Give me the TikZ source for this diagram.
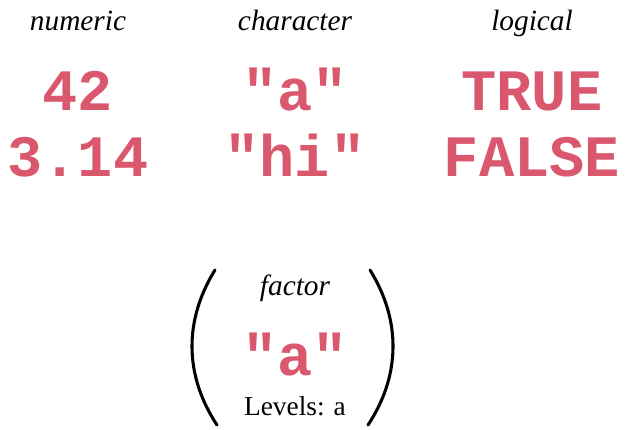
\documentclass[tikz,border=0pt]{standalone}
\usepackage{fontspec}
\setmainfont{Liberation Serif}
\newfontfamily\codefont{Liberation Mono}
\definecolor{codered}{RGB}{218,88,110}
\begin{document}
\begin{tikzpicture}[x=0.75pt,y=-0.75pt,
  typelabel/.style={anchor=base,inner sep=0pt,font=\fontsize{22}{26}\selectfont\itshape},
  value/.style={anchor=base,inner sep=0pt,text=codered,font=\fontsize{44}{50}\selectfont\codefont\bfseries},
  note/.style={anchor=base,inner sep=0pt,font=\fontsize{20.5}{24}\selectfont},
  paren/.style={line width=2.3pt,line cap=round}]
\useasboundingbox (0,0) rectangle (628,429);
% atomic types
\node[typelabel] (numlab) at (78,30) {numeric};
\node[typelabel] (chrlab) at (295,30) {character};
\node[typelabel] (loglab) at (532,30) {logical};
\node[value] (n1) at (78,110) {42};
\node[value] (n2) at (78,176) {3.14};
\node[value] (c1) at (295,110) {"a"};
\node[value] (c2) at (295,176) {"hi"};
\node[value] (l1) at (532,110) {TRUE};
\node[value] (l2) at (532,176) {FALSE};
% factor
\node[typelabel] (faclab) at (295,295) {factor};
\node[value] (f1) at (295,375) {"a"};
\node[note] (lev) at (295,415) {Levels: a};
\draw[paren] (215,270) .. controls (184,320) and (184,375) .. (217,425);
\draw[paren] (370,270) .. controls (401,320) and (401,375) .. (368,425);
\end{tikzpicture}
\end{document}
